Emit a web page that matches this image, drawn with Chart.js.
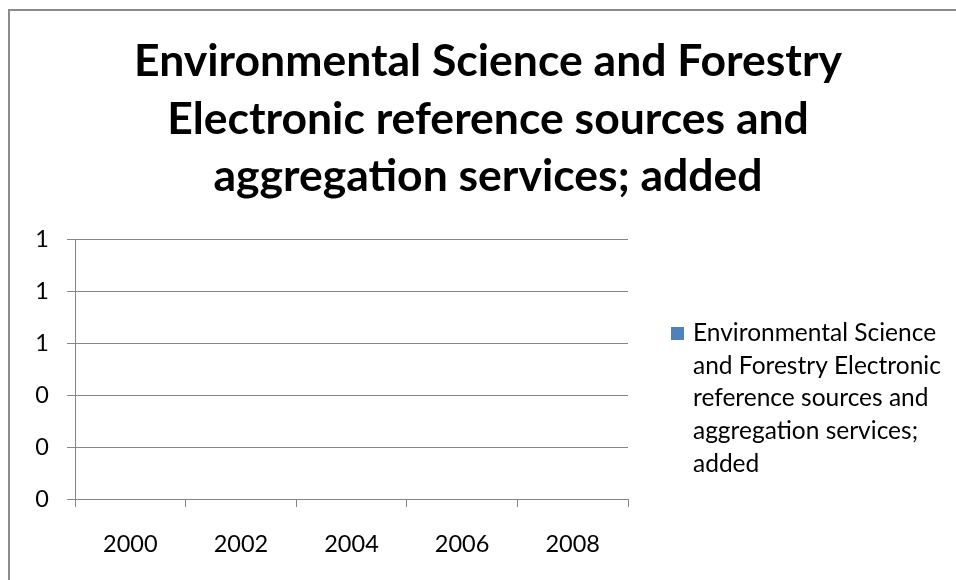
<!DOCTYPE html>
<html>
<head>
<meta charset="utf-8">
<script src="https://cdn.jsdelivr.net/npm/chart.js@4.4.1/dist/chart.umd.min.js"></script>
<style>
  html, body { margin: 0; padding: 0; background: #fff; }
  #wrap { width: 956px; height: 580px; }
</style>
</head>
<body>
<div id="wrap"><canvas id="chart" width="956" height="580"></canvas></div>
<script>
const years = ['2000', '2002', '2004', '2006', '2008'];
const addedValues = [0, 0, 0, 0, 0];
const yTicks = [0, 0.2, 0.4, 0.6, 0.8, 1];
const seriesName = 'Environmental Science and Forestry Electronic reference sources and aggregation services; added';
const titleLines = ['Environmental Science and Forestry', 'Electronic reference sources and', 'aggregation services; added'];

const FONT = 'Lato, "Open Sans", sans-serif';
const AXIS_GRAY = '#868686';
const BLUE = '#4F81BD';

// frame, title and the wrapped legend are drawn by hand (Chart.js legend can't wrap)
const excelBits = {
  id: 'excelBits',
  beforeDraw(chart) {
    const ctx = chart.ctx;
    ctx.save();
    ctx.strokeStyle = '#8c8c8c';
    ctx.lineWidth = 2;
    ctx.strokeRect(9, 10, 1000, 1000);
    ctx.restore();
  },
  afterDraw(chart) {
    const ctx = chart.ctx;
    ctx.save();
    ctx.fillStyle = '#000';
    ctx.font = 'bold 44.5px ' + FONT;
    ctx.textAlign = 'center';
    ctx.textBaseline = 'alphabetic';
    titleLines.forEach((line, i) => ctx.fillText(line, 488, 76 + i * 57.5));

    // legend
    const ds = chart.data.datasets[0];
    ctx.fillStyle = ds.backgroundColor;
    ctx.fillRect(671, 327, 13, 13);
    ctx.fillStyle = '#000';
    ctx.font = '24.5px ' + FONT;
    ctx.textAlign = 'left';
    const words = ds.label.split(' ');
    const lines = [];
    let cur = '';
    words.forEach((w) => {
      const test = cur ? cur + ' ' + w : w;
      if (ctx.measureText(test).width > 258 && cur) {
        lines.push(cur);
        cur = w;
      } else {
        cur = test;
      }
    });
    if (cur) lines.push(cur);
    lines.forEach((line, i) => ctx.fillText(line, 693, 341 + i * 32.7));
    ctx.restore();
  },
};

new Chart(document.getElementById('chart'), {
  type: 'bar',
  data: {
    labels: years,
    datasets: [{
      label: seriesName,
      data: addedValues,
      backgroundColor: BLUE,
      borderWidth: 0,
    }],
  },
  options: {
    responsive: false,
    animation: false,
    layout: { padding: { top: 239, right: 328, left: 0, bottom: 0 } },
    plugins: {
      legend: { display: false },
      title: { display: false },
      tooltip: { enabled: false },
    },
    scales: {
      x: {
        afterFit: (scale) => { scale.height = 81; },
        grid: {
          offset: true,
          drawOnChartArea: false,
          drawTicks: true,
          tickLength: 8,
          color: AXIS_GRAY,
        },
        border: { display: true, color: AXIS_GRAY },
        ticks: {
          color: '#000',
          padding: 23,
          font: { family: FONT, size: 23.5 },
          maxRotation: 0,
        },
      },
      y: {
        min: 0,
        max: 1,
        afterFit: (scale) => { scale.width = 75; },
        afterBuildTicks: (scale) => { scale.ticks = yTicks.map((v) => ({ value: v })); },
        grid: {
          color: AXIS_GRAY,
          tickLength: 8,
        },
        border: { display: true, color: AXIS_GRAY },
        ticks: {
          color: '#000',
          padding: 18,
          font: { family: FONT, size: 23.5 },
          callback: (v) => Math.round(v).toString(),
        },
      },
    },
  },
  plugins: [excelBits],
});
</script>
</body>
</html>
